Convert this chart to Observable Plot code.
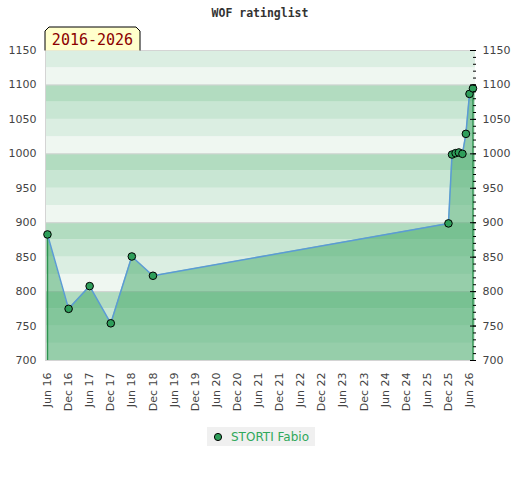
<!DOCTYPE html>
<html><head><meta charset="utf-8">
<script src="https://cdn.jsdelivr.net/npm/d3@7"></script>
<script src="https://cdn.jsdelivr.net/npm/@observablehq/plot@0.6"></script>
<style>
body{margin:0;background:#fff;}
#wrap{position:relative;width:520px;height:480px;}
#legend{position:absolute;top:427px;left:207px;width:108px;height:19px;background:#f0f0f0;display:flex;align-items:center;font-family:"DejaVu Sans",sans-serif;font-size:12px;color:#2fa85a;}
#legend svg{margin-left:6px;margin-right:8px;}
</style>
</head><body>
<div id="wrap"><div id="chart"></div>
<div id="legend"><svg width="10" height="10"><circle cx="5" cy="5" r="3.6" fill="#2e9e5a" stroke="#000" stroke-width="1"/></svg><span>STORTI Fabio</span></div>
</div>
<script>
const title = "WOF ratinglist";
const periodLabel = "2016-2026";
const seriesName = "STORTI Fabio";
const dates = ["2016-06-01","2016-12-01","2017-06-01","2017-12-01","2018-06-01","2018-12-01",
  "2025-12-01","2026-01-01","2026-02-01","2026-03-01","2026-04-01","2026-05-01","2026-06-01","2026-07-01"];
const ratings = [883,775,808,754,851,823,899,999,1001,1002,1000,1029,1087,1095];
const yTicks = [700,750,800,850,900,950,1000,1050,1100,1150];
const yMinorTicks = d3.range(700,1151,10);
const xTicks = ["2016-06-01","2016-12-01","2017-06-01","2017-12-01","2018-06-01","2018-12-01",
  "2019-06-01","2019-12-01","2020-06-01","2020-12-01","2021-06-01","2021-12-01","2022-06-01",
  "2022-12-01","2023-06-01","2023-12-01","2024-06-01","2024-12-01","2025-06-01","2025-12-01","2026-06-01"];
const bandColors = ["#eff7f1","#dbeee2","#c8e6d3","#b2dcc0"];

const data = dates.map((d,i)=>({date:new Date(d), value:ratings[i]}));
const bands = d3.range(700,1150,25).map(l=>({y1:l,y2:l+25,c:bandColors[(l%100)/25]}));
const ends = [data[0], data[data.length-1]];
const x0 = new Date("2016-05-15"), x1 = new Date("2026-07-23");
const fmtY = d3.format("d");

const plot = Plot.plot({
  width:520, height:420,
  marginTop:50, marginLeft:45, marginRight:45, marginBottom:60,
  style:{fontFamily:"DejaVu Sans, sans-serif", fontSize:"11px", color:"#444", background:"transparent"},
  x:{type:"utc", domain:[x0,x1]},
  y:{domain:[700,1150]},
  color:{type:"identity"},
  marks:[
    Plot.rect(bands,{y1:"y1",y2:"y2",fill:"c"}),
    Plot.ruleY([700,800,900,1000,1100,1150],{stroke:"#d4d4d4"}),
    Plot.ruleX([x0],{stroke:"#d4d4d4"}),
    Plot.areaY(data,{x:"date",y1:700,y2:"value",fill:"rgb(62,166,99)",fillOpacity:0.5}),
    Plot.ruleX(ends,{x:"date",y1:700,y2:"value",stroke:"#2e9350",strokeWidth:1.5}),
    Plot.line(data,{x:"date",y:"value",stroke:"#5b9bd5",strokeWidth:1.5}),
    Plot.dot(data,{x:"date",y:"value",r:3.8,fill:"#2e9e5a",stroke:"#000",strokeWidth:1}),
    Plot.axisY({anchor:"left",ticks:yTicks,tickSize:0,tickPadding:9,tickFormat:fmtY,label:null}),
    Plot.axisY({anchor:"right",ticks:yTicks,tickSize:0,tickPadding:7,tickFormat:fmtY,label:null}),
    Plot.axisY({anchor:"right",ticks:yMinorTicks,tickSize:-3,tickFormat:()=>"",label:null,stroke:"#000"}),
    Plot.axisY({anchor:"right",ticks:yTicks,tickSize:-6,tickFormat:()=>"",label:null,stroke:"#000"}),
    Plot.axisX({ticks:xTicks.map(d=>new Date(d)),tickFormat:d3.utcFormat("%b %y"),tickRotate:-90,tickSize:0,tickPadding:12,label:null})
  ]
});
document.getElementById("chart").appendChild(plot);

const svg = d3.select(plot);
svg.append("text").attr("x",260).attr("y",17).attr("text-anchor","middle")
  .attr("font-family","DejaVu Sans Mono, monospace").attr("font-weight","bold").attr("font-size","11.5px")
  .attr("fill","#333").text(title);
svg.append("path").attr("d","M45,50.5V31L49,27H136L140,31V50.5")
  .attr("fill","#ffffcc").attr("stroke","#000").attr("stroke-width",1);
svg.append("text").attr("x",92.5).attr("y",45).attr("text-anchor","middle")
  .attr("font-family","DejaVu Sans Mono, monospace").attr("font-size","15px")
  .attr("fill","#8b0000").text(periodLabel);
document.querySelector("#legend span").textContent = seriesName;
</script>
</body></html>
